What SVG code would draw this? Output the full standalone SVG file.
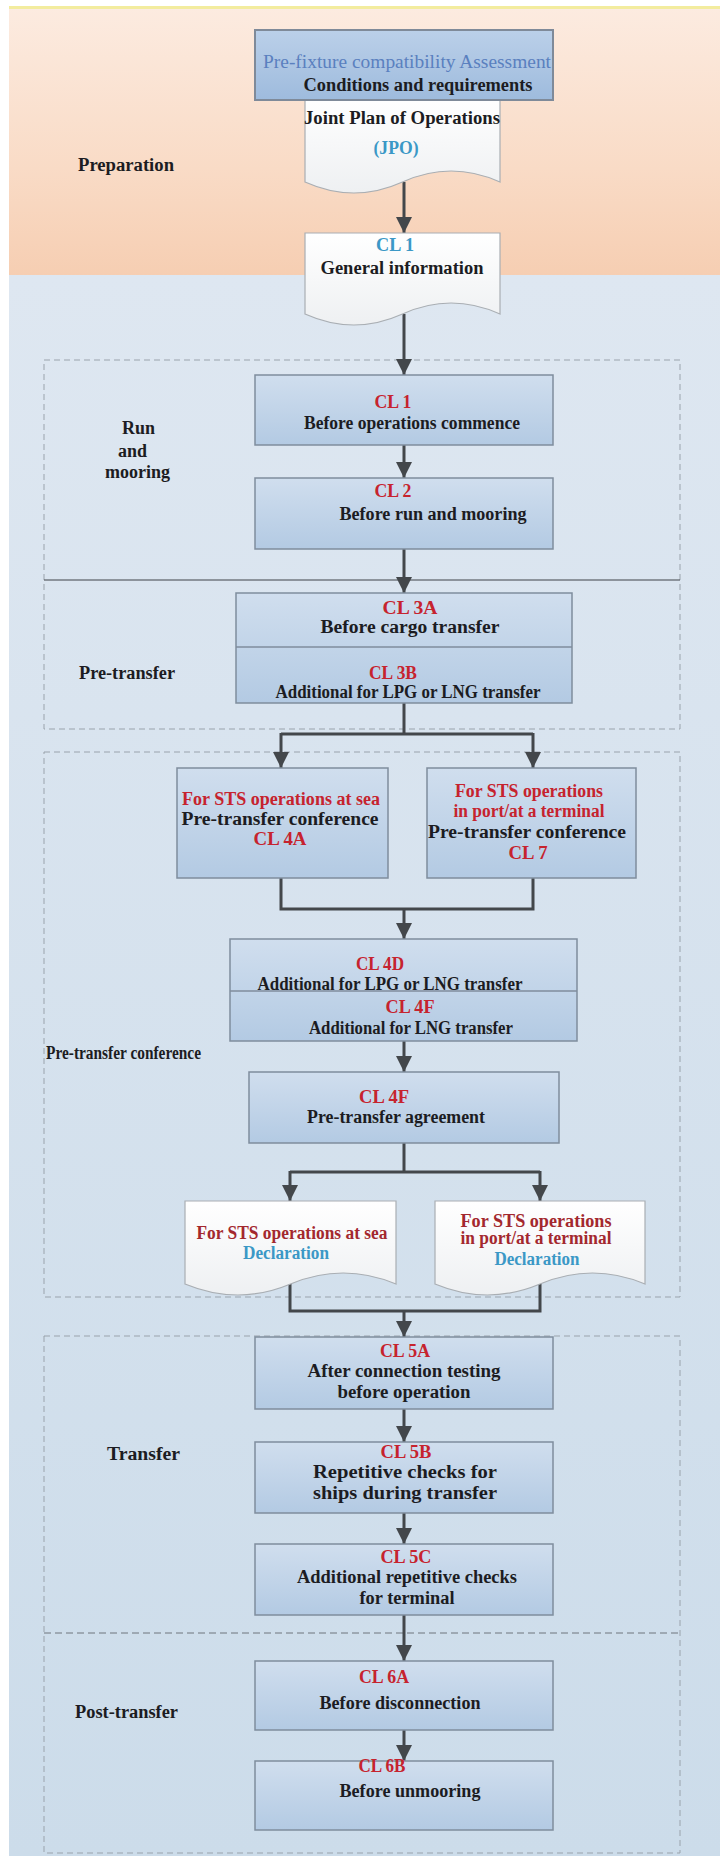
<svg xmlns="http://www.w3.org/2000/svg" width="720" height="1856" viewBox="0 0 720 1856">
<defs>
<linearGradient id="gPeach" x1="0" y1="0" x2="0" y2="1">
<stop offset="0" stop-color="#FCEBE0"/>
<stop offset="0.6" stop-color="#F9DBC6"/>
<stop offset="1" stop-color="#F6CEB2"/>
</linearGradient>
<linearGradient id="gBlue" x1="0" y1="0" x2="0" y2="1">
<stop offset="0" stop-color="#DEE7F1"/>
<stop offset="1" stop-color="#CCDCEA"/>
</linearGradient>
<linearGradient id="gBox" x1="0" y1="0" x2="0" y2="1">
<stop offset="0" stop-color="#D0DEEE"/>
<stop offset="1" stop-color="#B3CAE3"/>
</linearGradient>
<linearGradient id="gBoxDark" x1="0" y1="0" x2="0" y2="1">
<stop offset="0" stop-color="#BBD0E9"/>
<stop offset="1" stop-color="#9EBBDD"/>
</linearGradient>
<linearGradient id="gDoc" x1="0" y1="0" x2="0" y2="1">
<stop offset="0" stop-color="#FFFFFF"/>
<stop offset="1" stop-color="#EEF0F2"/>
</linearGradient>
<marker id="arr" markerUnits="userSpaceOnUse" markerWidth="16" markerHeight="16" refX="16" refY="8" orient="auto">
<path d="M0,0 L16,8 L0,16 z" fill="#43474B"/>
</marker>
<style>
.box{fill:url(#gBox);stroke:#7F8D9D;stroke-width:1.5}
.boxd{fill:url(#gBoxDark);stroke:#7F8A99;stroke-width:2}
.doc{fill:url(#gDoc);stroke:#A9AEB3;stroke-width:1.2}
.div{stroke:#7F8D9D;stroke-width:1.5}
.t{font-family:"Liberation Serif","Times New Roman",serif;font-size:18px;font-weight:bold;text-anchor:middle;fill:#1C1C22}
.r{fill:#C6232E}
.dr{fill:#A3282E}
.b{fill:#5A80BF;font-weight:normal}
.c{fill:#3B98C6}
.lab{font-family:"Liberation Serif","Times New Roman",serif;font-size:18px;font-weight:bold;fill:#1C1C22}
.dash{fill:none;stroke:#9AA3AC;stroke-width:1;stroke-dasharray:6,4}
.con{fill:none;stroke:#43474B;stroke-width:3}
</style>
</defs>

<g id="background">
<rect x="0" y="0" width="720" height="1856" fill="#FFFFFF"/>
<rect x="9" y="8" width="711" height="268" fill="url(#gPeach)"/>
<rect x="9" y="6" width="711" height="3" fill="#F3EC9E"/>
<rect x="9" y="275" width="711" height="1581" fill="url(#gBlue)"/>
</g>

<g id="stages">
<rect class="dash" x="44" y="360" width="636" height="369"/>
<line x1="44" y1="580" x2="680" y2="580" stroke="#3E4348" stroke-width="1"/>
<rect class="dash" x="44" y="752" width="636" height="545"/>
<rect class="dash" x="44" y="1336" width="636" height="517"/>
<line x1="44" y1="1633" x2="680" y2="1633" stroke="#6E757C" stroke-width="1" stroke-dasharray="7,4"/>
<text class="lab" x="78" y="171" textLength="96" lengthAdjust="spacingAndGlyphs">Preparation</text>
<text class="lab" x="122" y="434" textLength="33" lengthAdjust="spacingAndGlyphs">Run</text>
<text class="lab" x="118" y="457" textLength="29" lengthAdjust="spacingAndGlyphs">and</text>
<text class="lab" x="105" y="478" textLength="65" lengthAdjust="spacingAndGlyphs">mooring</text>
<text class="lab" x="79" y="679" textLength="96" lengthAdjust="spacingAndGlyphs">Pre-transfer</text>
<text class="lab" x="46" y="1059" textLength="155" lengthAdjust="spacingAndGlyphs">Pre-transfer conference</text>
<text class="lab" x="107" y="1460" textLength="73" lengthAdjust="spacingAndGlyphs">Transfer</text>
<text class="lab" x="75" y="1718" textLength="103" lengthAdjust="spacingAndGlyphs">Post-transfer</text>
</g>

<g id="connectors">
<line class="con" x1="404" y1="182" x2="404" y2="233" marker-end="url(#arr)"/>
<line class="con" x1="404" y1="314" x2="404" y2="375" marker-end="url(#arr)"/>
<line class="con" x1="404" y1="445" x2="404" y2="478" marker-end="url(#arr)"/>
<line class="con" x1="404" y1="549" x2="404" y2="593" marker-end="url(#arr)"/>
<path class="con" d="M404,703 V734"/>
<path class="con" d="M281,734 H533"/>
<line class="con" x1="281" y1="733" x2="281" y2="768" marker-end="url(#arr)"/>
<line class="con" x1="533" y1="733" x2="533" y2="768" marker-end="url(#arr)"/>
<path class="con" d="M281,878 V909 H533 V878"/>
<line class="con" x1="404" y1="909" x2="404" y2="939" marker-end="url(#arr)"/>
<line class="con" x1="404" y1="1041" x2="404" y2="1072" marker-end="url(#arr)"/>
<path class="con" d="M404,1143 V1172"/>
<path class="con" d="M290,1172 H540"/>
<line class="con" x1="290" y1="1171" x2="290" y2="1201" marker-end="url(#arr)"/>
<line class="con" x1="540" y1="1171" x2="540" y2="1201" marker-end="url(#arr)"/>
<path class="con" d="M290,1284 V1311 H540 V1284"/>
<line class="con" x1="404" y1="1311" x2="404" y2="1337" marker-end="url(#arr)"/>
<line class="con" x1="404" y1="1409" x2="404" y2="1442" marker-end="url(#arr)"/>
<line class="con" x1="404" y1="1513" x2="404" y2="1544" marker-end="url(#arr)"/>
<line class="con" x1="404" y1="1615" x2="404" y2="1661" marker-end="url(#arr)"/>
<line class="con" x1="404" y1="1730" x2="404" y2="1761" marker-end="url(#arr)"/>
</g>

<g id="n_jpo">
<path class="doc" d="M305,96 H500 V182 Q451,160 402.5,182 Q354,204 305,182 Z"/>
<text class="t" x="402" y="124" textLength="196" lengthAdjust="spacingAndGlyphs">Joint Plan of Operations</text>
<text class="t c" x="396" y="154" textLength="45" lengthAdjust="spacingAndGlyphs">(JPO)</text>
</g>

<g id="n_prefixture">
<rect class="boxd" x="255" y="30" width="298" height="70"/>
<text class="t b" x="407" y="68" textLength="288" lengthAdjust="spacingAndGlyphs">Pre-fixture compatibility Assessment</text>
<text class="t" x="418" y="91" textLength="229" lengthAdjust="spacingAndGlyphs">Conditions and requirements</text>
</g>

<g id="n_cl1doc">
<path class="doc" d="M305,233 H500 V314 Q451,292 402.5,314 Q354,336 305,314 Z"/>
<text class="t c" x="395" y="251" textLength="38" lengthAdjust="spacingAndGlyphs">CL 1</text>
<text class="t" x="402" y="274" textLength="163" lengthAdjust="spacingAndGlyphs">General information</text>
</g>

<g id="n_cl1">
<rect class="box" x="255" y="375" width="298" height="70"/>
<text class="t r" x="393" y="408" textLength="37" lengthAdjust="spacingAndGlyphs">CL 1</text>
<text class="t" x="412" y="429" textLength="216" lengthAdjust="spacingAndGlyphs">Before operations commence</text>
</g>

<g id="n_cl2">
<rect class="box" x="255" y="478" width="298" height="71"/>
<text class="t r" x="393" y="497" textLength="37" lengthAdjust="spacingAndGlyphs">CL 2</text>
<text class="t" x="433" y="520" textLength="187" lengthAdjust="spacingAndGlyphs">Before run and mooring</text>
</g>

<g id="n_cl3">
<rect class="box" x="236" y="593" width="336" height="110"/>
<line class="div" x1="236" y1="647" x2="572" y2="647"/>
<text class="t r" x="410" y="614" textLength="55" lengthAdjust="spacingAndGlyphs">CL 3A</text>
<text class="t" x="410" y="633" textLength="179" lengthAdjust="spacingAndGlyphs">Before cargo transfer</text>
<text class="t r" x="393" y="679" textLength="48" lengthAdjust="spacingAndGlyphs">CL 3B</text>
<text class="t" x="408" y="698" textLength="265" lengthAdjust="spacingAndGlyphs">Additional for LPG or LNG transfer</text>
</g>

<g id="n_cl4a">
<rect class="box" x="177" y="768" width="211" height="110"/>
<text class="t r" x="281" y="805" textLength="198" lengthAdjust="spacingAndGlyphs">For STS operations at sea</text>
<text class="t" x="280" y="825" textLength="197" lengthAdjust="spacingAndGlyphs">Pre-transfer conference</text>
<text class="t r" x="280" y="845" textLength="53" lengthAdjust="spacingAndGlyphs">CL 4A</text>
</g>

<g id="n_cl7">
<rect class="box" x="427" y="768" width="209" height="110"/>
<text class="t r" x="529" y="797" textLength="148" lengthAdjust="spacingAndGlyphs">For STS operations</text>
<text class="t r" x="529" y="817" textLength="151" lengthAdjust="spacingAndGlyphs">in port/at a terminal</text>
<text class="t" x="527" y="838" textLength="198" lengthAdjust="spacingAndGlyphs">Pre-transfer conference</text>
<text class="t r" x="528" y="859" textLength="39" lengthAdjust="spacingAndGlyphs">CL 7</text>
</g>

<g id="n_cl4df">
<rect class="box" x="230" y="939" width="347" height="102"/>
<line class="div" x1="230" y1="991" x2="577" y2="991"/>
<text class="t r" x="380" y="970" textLength="48" lengthAdjust="spacingAndGlyphs">CL 4D</text>
<text class="t" x="390" y="990" textLength="265" lengthAdjust="spacingAndGlyphs">Additional for LPG or LNG transfer</text>
<text class="t r" x="410" y="1013" textLength="49" lengthAdjust="spacingAndGlyphs">CL 4F</text>
<text class="t" x="411" y="1034" textLength="204" lengthAdjust="spacingAndGlyphs">Additional for LNG transfer</text>
</g>

<g id="n_cl4f_agreement">
<rect class="box" x="249" y="1072" width="310" height="71"/>
<text class="t r" x="384" y="1103" textLength="50" lengthAdjust="spacingAndGlyphs">CL 4F</text>
<text class="t" x="396" y="1123" textLength="178" lengthAdjust="spacingAndGlyphs">Pre-transfer agreement</text>
</g>

<g id="n_decl_sea">
<path class="doc" d="M185,1201 H396 V1284 Q343,1262 290.5,1284 Q238,1306 185,1284 Z"/>
<text class="t dr" x="292" y="1239" textLength="191" lengthAdjust="spacingAndGlyphs">For STS operations at sea</text>
<text class="t c" x="286" y="1259" textLength="86" lengthAdjust="spacingAndGlyphs">Declaration</text>
</g>

<g id="n_decl_port">
<path class="doc" d="M435,1201 H645 V1284 Q592.5,1262 540,1284 Q487.5,1306 435,1284 Z"/>
<text class="t dr" x="536" y="1227" textLength="151" lengthAdjust="spacingAndGlyphs">For STS operations</text>
<text class="t dr" x="536" y="1244" textLength="151" lengthAdjust="spacingAndGlyphs">in port/at a terminal</text>
<text class="t c" x="537" y="1265" textLength="85" lengthAdjust="spacingAndGlyphs">Declaration</text>
</g>

<g id="n_cl5a">
<rect class="box" x="255" y="1337" width="298" height="72"/>
<text class="t r" x="405" y="1357" textLength="50" lengthAdjust="spacingAndGlyphs">CL 5A</text>
<text class="t" x="404" y="1377" textLength="193" lengthAdjust="spacingAndGlyphs">After connection testing</text>
<text class="t" x="404" y="1398" textLength="133" lengthAdjust="spacingAndGlyphs">before operation</text>
</g>

<g id="n_cl5b">
<rect class="box" x="255" y="1442" width="298" height="71"/>
<text class="t r" x="406" y="1458" textLength="51" lengthAdjust="spacingAndGlyphs">CL 5B</text>
<text class="t" x="405" y="1478" textLength="184" lengthAdjust="spacingAndGlyphs">Repetitive checks for</text>
<text class="t" x="405" y="1499" textLength="184" lengthAdjust="spacingAndGlyphs">ships during transfer</text>
</g>

<g id="n_cl5c">
<rect class="box" x="255" y="1544" width="298" height="71"/>
<text class="t r" x="406" y="1563" textLength="51" lengthAdjust="spacingAndGlyphs">CL 5C</text>
<text class="t" x="407" y="1583" textLength="220" lengthAdjust="spacingAndGlyphs">Additional repetitive checks</text>
<text class="t" x="407" y="1604" textLength="95" lengthAdjust="spacingAndGlyphs">for terminal</text>
</g>

<g id="n_cl6a">
<rect class="box" x="255" y="1661" width="298" height="69"/>
<text class="t r" x="384" y="1683" textLength="50" lengthAdjust="spacingAndGlyphs">CL 6A</text>
<text class="t" x="400" y="1709" textLength="161" lengthAdjust="spacingAndGlyphs">Before disconnection</text>
</g>

<g id="n_cl6b">
<rect class="box" x="255" y="1761" width="298" height="69"/>
<text class="t r" x="382" y="1772" textLength="47" lengthAdjust="spacingAndGlyphs">CL 6B</text>
<text class="t" x="410" y="1797" textLength="141" lengthAdjust="spacingAndGlyphs">Before unmooring</text>
</g>
</svg>
